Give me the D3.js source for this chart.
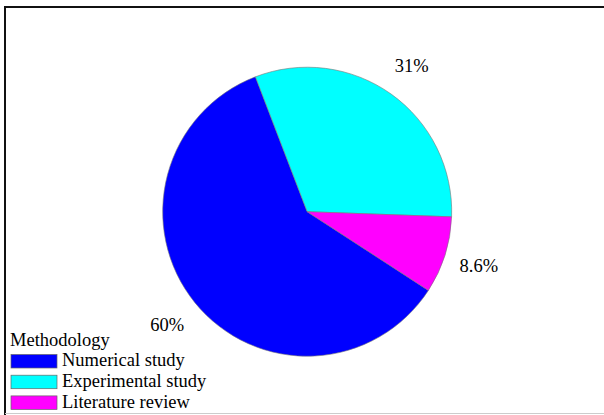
<!DOCTYPE html>
<html>
<head>
<meta charset="UTF-8">
<script src="https://d3js.org/d3.v7.min.js"></script>
</head>
<body style="margin:0">
<script>
// data
var categories = ["Numerical study", "Experimental study", "Literature review"];
var shares = [60.0, 31.4, 8.6];
var colors = ["#0000ff", "#00ffff", "#ff00ff"];
var legendTitle = "Methodology";

var W = 604, H = 415;
var cx = 307.2, cy = 211.7, radius = 144.5, labelRadius = 180;

var svg = d3.select("body").append("svg")
    .attr("width", W)
    .attr("height", H);

// frame
svg.append("line").attr("x1", 5).attr("x2", W).attr("y1", 7).attr("y2", 7)
  .attr("stroke", "#111").attr("stroke-width", 2);
svg.append("line").attr("x1", 5).attr("x2", 5).attr("y1", 6).attr("y2", H)
  .attr("stroke", "#111").attr("stroke-width", 2);
svg.append("line").attr("x1", 5).attr("x2", W).attr("y1", 413.5).attr("y2", 413.5)
  .attr("stroke", "#ccc").attr("stroke-width", 1);

var rows = categories.map(function(c, i) { return {name: c, value: shares[i], color: colors[i]}; });

var pie = d3.pie()
  .sort(null)
  .value(function(d) { return d.value; })
  .startAngle(123 * Math.PI / 180)
  .endAngle(123 * Math.PI / 180 + 2 * Math.PI);

var arc = d3.arc().innerRadius(0).outerRadius(radius);
var labelArc = d3.arc().innerRadius(labelRadius).outerRadius(labelRadius);

var g = svg.append("g").attr("transform", "translate(" + cx + "," + cy + ")");

g.selectAll("path.slice")
  .data(pie(rows))
  .enter().append("path")
    .attr("class", "slice")
    .attr("d", arc)
    .attr("fill", function(d) { return d.data.color; })
    .attr("stroke", "#777")
    .attr("stroke-width", 0.6);

function serifText(sel) {
  sel.style("font-family", "'Liberation Serif'")
     .style("font-size", "18.5px");
}

var fmt = d3.format(".2r");
g.selectAll("text.pct")
  .data(pie(rows))
  .enter().append("text")
    .attr("class", "pct")
    .attr("transform", function(d) { return "translate(" + labelArc.centroid(d) + ")"; })
    .attr("text-anchor", "middle")
    .attr("dy", "0.35em")
    .call(serifText)
    .text(function(d) { return fmt(d.data.value) + "%"; });

// legend
var legend = svg.append("g");
legend.append("text")
  .attr("x", 10)
  .attr("y", 345.5)
  .call(serifText)
  .text(legendTitle);

var item = legend.selectAll("g.item")
  .data(rows)
  .enter().append("g")
    .attr("class", "item")
    .attr("transform", function(d, i) { return "translate(0," + (354.5 + i * 20.7) + ")"; });

item.append("rect")
  .attr("x", 11)
  .attr("y", 0)
  .attr("width", 46)
  .attr("height", 13.5)
  .attr("fill", function(d) { return d.color; })
  .attr("stroke", "#666")
  .attr("stroke-width", 0.7);

item.append("text")
  .attr("x", 62)
  .attr("y", 11.8)
  .call(serifText)
  .text(function(d) { return d.name; });
</script>
</body>
</html>
